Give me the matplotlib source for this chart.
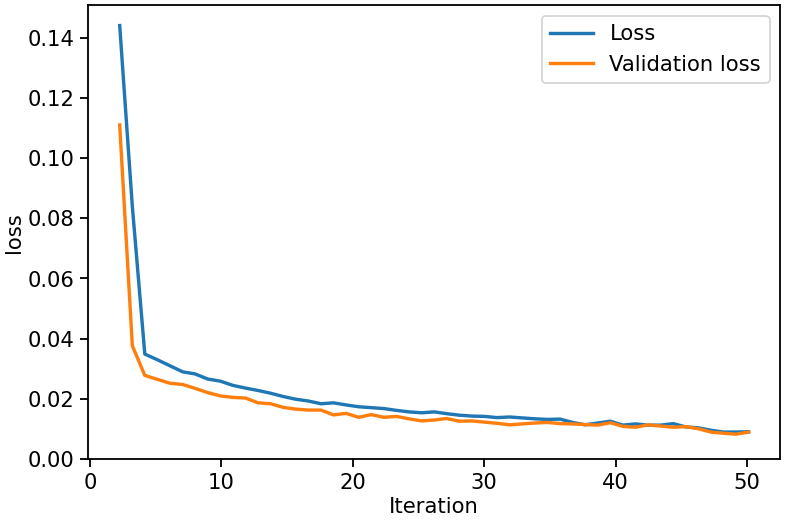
import matplotlib
matplotlib.use("Agg")
import matplotlib.pyplot as plt

# iteration positions of the logged points
iterations = [2.27, 3.23, 4.18, 5.14, 6.10, 7.06, 8.01, 8.97, 9.93, 10.88,
              11.84, 12.80, 13.75, 14.71, 15.67, 16.63, 17.58, 18.54, 19.50, 20.45,
              21.41, 22.37, 23.32, 24.28, 25.24, 26.20, 27.15, 28.11, 29.07, 30.02,
              30.98, 31.94, 32.89, 33.85, 34.81, 35.77, 36.72, 37.68, 38.64, 39.59,
              40.55, 41.51, 42.46, 43.42, 44.38, 45.34, 46.29, 47.25, 48.21, 49.16,
              50.12]

loss = [0.144, 0.084, 0.0349, 0.0330, 0.0310, 0.0290, 0.0283, 0.0266, 0.0259, 0.0245,
        0.0236, 0.0228, 0.0219, 0.0208, 0.0199, 0.0193, 0.0184, 0.0187, 0.0180, 0.0174,
        0.0171, 0.0168, 0.0162, 0.0157, 0.0154, 0.0157, 0.0151, 0.0146, 0.0143, 0.0142,
        0.0138, 0.0140, 0.0137, 0.0134, 0.0132, 0.0133, 0.0122, 0.0114, 0.0120, 0.0126,
        0.0113, 0.0117, 0.0113, 0.0113, 0.0118, 0.0107, 0.0104, 0.0096, 0.0090, 0.0090,
        0.0091]

val_loss = [0.111, 0.0377, 0.0278, 0.0265, 0.0252, 0.0248, 0.0235, 0.0221, 0.0210, 0.0205,
            0.0203, 0.0187, 0.0184, 0.0172, 0.0166, 0.0163, 0.0163, 0.0147, 0.0152, 0.0139,
            0.0148, 0.0139, 0.0142, 0.0134, 0.0127, 0.0130, 0.0135, 0.0126, 0.0127, 0.0123,
            0.0119, 0.0114, 0.0117, 0.0120, 0.0122, 0.0118, 0.0117, 0.0115, 0.0113, 0.0121,
            0.0109, 0.0106, 0.0114, 0.0110, 0.0106, 0.0108, 0.0101, 0.0090, 0.0086, 0.0083,
            0.0090]

# reference looks like the default style rendered a bit bigger
plt.rcParams["font.size"] = 11.6
plt.rcParams["lines.linewidth"] = 1.85
plt.rcParams["axes.linewidth"] = 1.0
plt.rcParams["xtick.major.size"] = 4.2
plt.rcParams["ytick.major.size"] = 4.2
plt.rcParams["xtick.major.width"] = 1.0
plt.rcParams["ytick.major.width"] = 1.0

fig = plt.figure(figsize=(6.0, 3.96), dpi=131.33)
ax = fig.add_subplot(111)
fig.subplots_adjust(left=0.112, right=0.99, top=0.99, bottom=0.117)

ax.plot(iterations, loss, label="Loss")
ax.plot(iterations, val_loss, label="Validation loss")
ax.set_ylim(bottom=0)
ax.set_xlabel("Iteration", labelpad=2)
ax.set_ylabel("loss", labelpad=2)
ax.legend(loc="upper right")

fig.savefig("out.png", dpi=131.33)
